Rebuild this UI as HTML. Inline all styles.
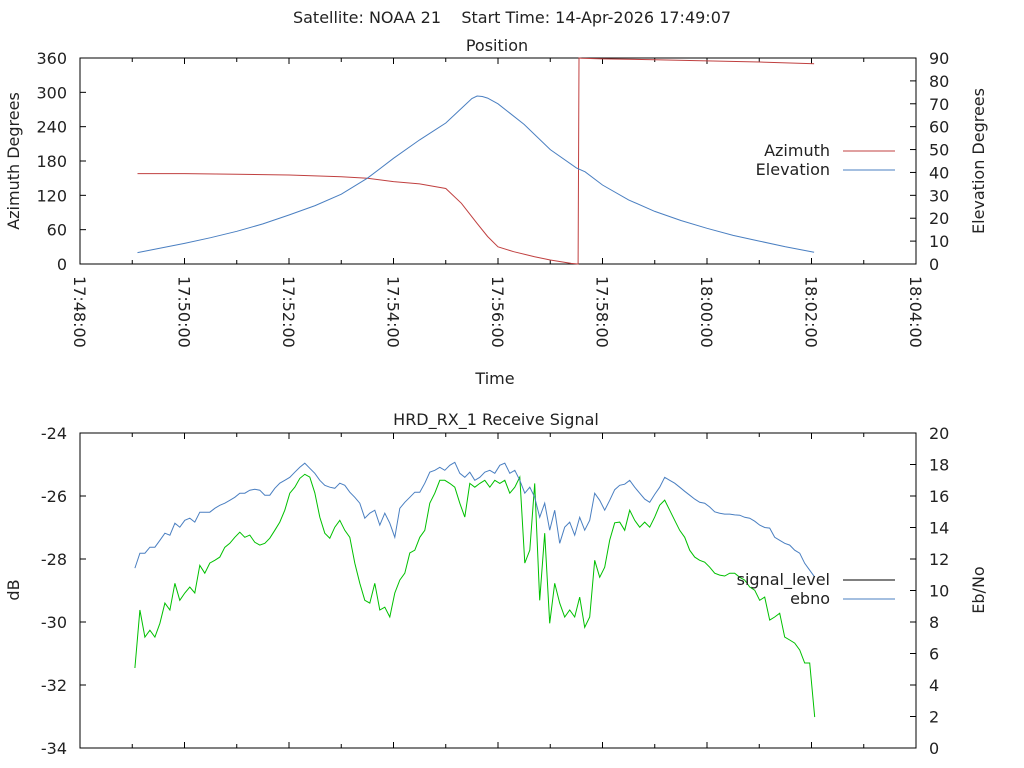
<!DOCTYPE html>
<html><head><meta charset="utf-8"><style>
html,body{margin:0;padding:0;background:#fff;}
svg{display:block;font-family:"DejaVu Sans","Liberation Sans",sans-serif;}
text{white-space:pre;}
</style></head><body>
<svg id="chart" width="1024" height="768" viewBox="0 0 1024 768" xmlns="http://www.w3.org/2000/svg">
<text x="512" y="23" font-size="16" text-anchor="middle" fill="#222" xml:space="preserve">Satellite: NOAA 21    Start Time: 14-Apr-2026 17:49:07</text>
<text x="497" y="51" font-size="16" text-anchor="middle" fill="#222">Position</text>
<text x="496" y="425" font-size="16" text-anchor="middle" fill="#222">HRD_RX_1 Receive Signal</text>
<text x="495" y="384" font-size="16" text-anchor="middle" fill="#222">Time</text>
<text transform="translate(19,161) rotate(-90)" font-size="16" text-anchor="middle" fill="#222">Azimuth Degrees</text>
<text transform="translate(984,161) rotate(-90)" font-size="16" text-anchor="middle" fill="#222">Elevation Degrees</text>
<text transform="translate(19,590) rotate(-90)" font-size="16" text-anchor="middle" fill="#222">dB</text>
<text transform="translate(984,590) rotate(-90)" font-size="16" text-anchor="middle" fill="#222">Eb/No</text>
<g id="g"></g>
</svg>
<script>
// Time in seconds after 17:48:00
const posTimes = [66,120,150,180,210,240,270,300,330,360,390,420,438,450,456,462,468,480,510,540,570,580,600,630,660,690,720,750,780,810,843];
const elevation = [5.0,9.0,11.5,14.3,17.5,21.4,25.5,30.5,37.5,46.2,54.2,61.6,68,72.3,73.4,73.2,72.5,70,61,50,42,40.3,34.5,28,23,19,15.6,12.5,10,7.5,5.1];
const azTimes = [66,120,180,240,300,330,360,390,420,438,456,468,480,498,522,540,564,572,573,576,600,660,720,780,843];
const azimuth = [158,158,157,155.5,152.6,149.7,144,140,132,106,71,48,30,21.5,12.8,7,1,0,360,359.5,358.5,357,355,353,350];
const sigStartSec = 63;
const sigStepSec = 5.74;
const signalLevel = [-31.46,-29.62,-30.48,-30.26,-30.48,-30.04,-29.40,-29.62,-28.77,-29.31,-29.08,-28.89,-29.08,-28.20,-28.45,-28.13,-28.04,-27.94,-27.63,-27.50,-27.31,-27.15,-27.31,-27.24,-27.47,-27.56,-27.50,-27.34,-27.09,-26.83,-26.45,-25.91,-25.72,-25.44,-25.31,-25.40,-25.90,-26.67,-27.18,-27.34,-26.99,-26.77,-27.09,-27.31,-28.13,-28.77,-29.31,-29.40,-28.77,-29.62,-29.53,-29.84,-29.08,-28.67,-28.45,-27.81,-27.72,-27.31,-27.09,-26.23,-25.91,-25.50,-25.50,-25.60,-25.72,-26.23,-26.67,-25.60,-25.72,-25.60,-25.50,-25.72,-25.50,-25.60,-25.50,-25.91,-25.72,-25.40,-28.13,-27.72,-25.60,-29.31,-27.18,-30.04,-28.77,-29.40,-29.84,-29.62,-29.84,-29.21,-30.17,-29.84,-28.04,-28.58,-28.26,-27.40,-26.85,-26.83,-27.09,-26.45,-26.77,-26.99,-26.83,-26.99,-26.67,-26.29,-26.13,-26.45,-26.77,-27.09,-27.31,-27.72,-27.94,-28.04,-28.10,-28.26,-28.45,-28.51,-28.54,-28.45,-28.45,-28.58,-28.67,-28.89,-28.99,-29.31,-29.21,-29.94,-29.84,-29.72,-30.48,-30.57,-30.67,-30.89,-31.30,-31.30,-33.02];
const ebno = [11.42,12.37,12.37,12.75,12.75,13.19,13.64,13.51,14.27,14.02,14.46,14.59,14.34,14.97,14.97,14.97,15.22,15.41,15.54,15.73,15.92,16.18,16.18,16.37,16.43,16.37,16.05,16.05,16.49,16.81,17.00,17.19,17.51,17.82,18.08,17.76,17.44,17.00,16.68,16.56,16.49,16.81,16.68,16.24,15.92,15.54,14.59,14.91,15.10,14.15,14.91,14.27,13.38,15.22,15.60,15.92,16.24,16.24,16.81,17.51,17.63,17.82,17.63,17.95,18.14,17.44,17.19,17.51,17.00,17.19,17.51,17.63,17.44,17.95,18.08,17.44,17.63,17.00,16.18,16.56,15.92,14.65,15.54,13.83,15.10,13.00,14.02,14.34,13.51,14.65,13.83,14.46,16.18,15.73,15.10,15.73,16.40,16.68,16.75,17.00,16.56,16.18,15.80,15.60,16.10,16.56,17.19,17.00,16.81,16.56,16.30,16.05,15.80,15.60,15.54,15.30,15.00,14.91,14.85,14.85,14.80,14.78,14.65,14.59,14.40,14.15,14.00,13.96,13.38,13.19,13.00,12.88,12.56,12.37,11.73,11.29,10.85];
const timeTicks = ["17:48:00","17:50:00","17:52:00","17:54:00","17:56:00","17:58:00","18:00:00","18:02:00","18:04:00"];
const azTicks = [0,60,120,180,240,300,360];
const elTicks = [0,10,20,30,40,50,60,70,80,90];
const dbTicks = [-34,-32,-30,-28,-26,-24];
const ebTicks = [0,2,4,6,8,10,12,14,16,18,20];

const NS="http://www.w3.org/2000/svg";
const G=document.getElementById('g');
function mk(tag,attrs){const e=document.createElementNS(NS,tag);for(const k in attrs)e.setAttribute(k,attrs[k]);G.appendChild(e);return e;}
const L=80,R=916, T1=58,B1=264, T2=433,B2=748;
const xS=s=>L+(s/960)*(R-L);
const azY=v=>B1-(v/360)*(B1-T1);
const elY=v=>B1-(v/90)*(B1-T1);
const dbY=v=>B2-((v+34)/10)*(B2-T2);
const ebY=v=>B2-(v/20)*(B2-T2);

function frame(top,bot,name){
  const r=mk('rect',{x:L,y:top,width:R-L,height:bot-top,fill:'none',stroke:'#000','stroke-width':1});
  
  
  for(let m=0;m<=16;m++){
    const x=xS(m*60), len=(m%2===0)?6:4;
    const t1=mk('line',{x1:x,y1:bot,x2:x,y2:bot-len,stroke:'#000'});
    
    
    const t2=mk('line',{x1:x,y1:top,x2:x,y2:top+len,stroke:'#000'});
    
    
  }
}
function yAxis(ticks,fn,side){
  ticks.forEach(v=>{
    const y=fn(v);
    const x0= side==='l'?L:R, d= side==='l'?6:-6;
    const t=mk('line',{x1:x0,y1:y,x2:x0+d,y2:y,stroke:'#000'});
    
    
    const tx=mk('text',{x: side==='l'?L-13:R+13, y:y+6,'font-size':16,'text-anchor':side==='l'?'end':'start',fill:'#222'});
    tx.textContent=String(v);
    
    
  });
}
function line(xs,ys,color,name){
  const p=xs.map((x,i)=>x.toFixed(1)+','+ys[i].toFixed(1)).join(' ');
  const e=mk('polyline',{points:p,fill:'none',stroke:color,'stroke-width':1});
  
  
}
frame(T1,B1,'position-plot-frame');
frame(T2,B2,'signal-plot-frame');
timeTicks.forEach((lab,i)=>{
  const x=xS(i*120);
  const t=mk('text',{transform:`translate(${x-6},276) rotate(90)`,'font-size':16,fill:'#222'});
  t.textContent=lab;
  
  
});
yAxis(azTicks,azY,'l'); yAxis(elTicks,elY,'r');
yAxis(dbTicks,dbY,'l'); yAxis(ebTicks,ebY,'r');
line(azTimes.map(xS),azimuth.map(azY),'#c04040','azimuth-line');
line(posTimes.map(xS),elevation.map(elY),'#4a7fc1','elevation-line');
const sx=signalLevel.map((v,i)=>xS(sigStartSec+i*sigStepSec));
line(sx,signalLevel.map(dbY),'#00c000','signal-level-line');
const ex=ebno.map((v,i)=>xS(sigStartSec+i*sigStepSec));
line(ex,ebno.map(ebY),'#4a7fc1','ebno-line');
function legend(label,y,color,name){
  const t=mk('text',{x:830,y:y+5,'font-size':16,'text-anchor':'end',fill:'#222'});
  t.textContent=label;
  
  
  const l=mk('line',{x1:843,y1:y,x2:895,y2:y,stroke:color});
  
  
}
legend('Azimuth',151,'#c04040','legend-azimuth');
legend('Elevation',170,'#4a7fc1','legend-elevation');
legend('signal_level',580,'#000','legend-signal-level');
legend('ebno',599,'#4a7fc1','legend-ebno');
</script>
</body></html>
